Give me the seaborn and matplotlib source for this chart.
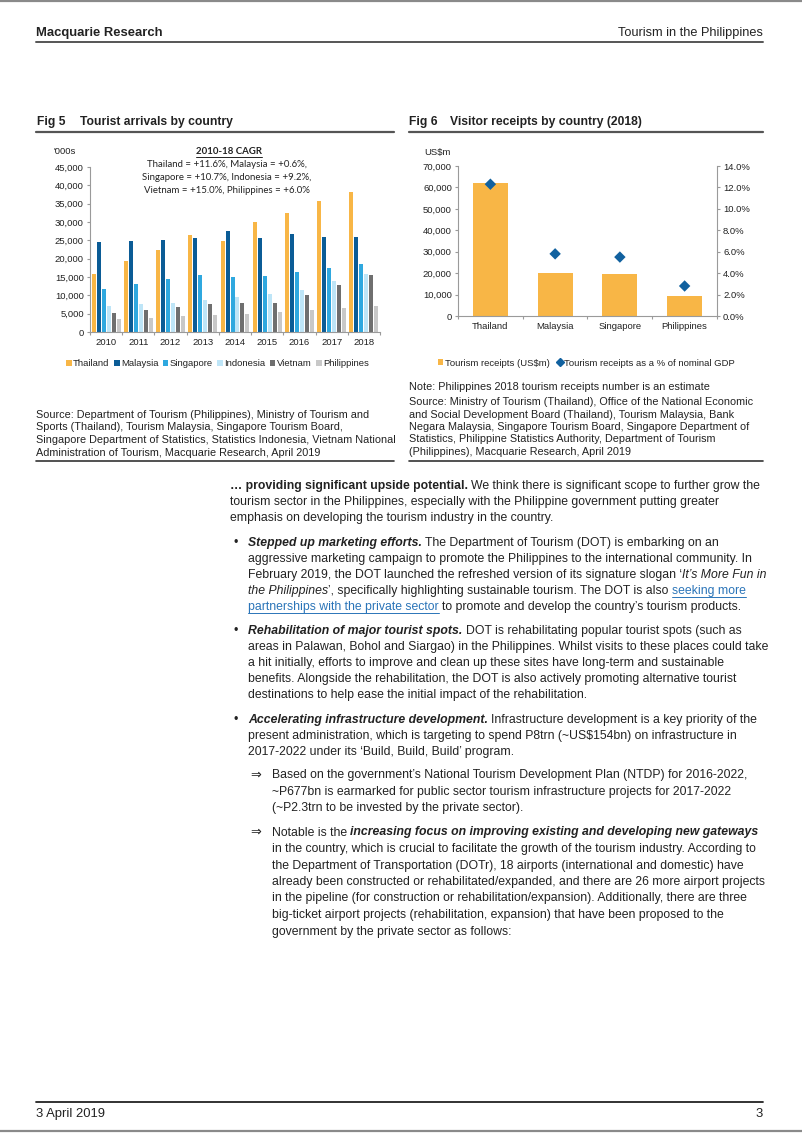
import numpy as np
import pandas as pd
import matplotlib
matplotlib.use("Agg")
import matplotlib.pyplot as plt
import seaborn as sns
from matplotlib.patches import Patch
from matplotlib.lines import Line2D
from matplotlib.ticker import FuncFormatter, MultipleLocator

# ---------------- data ----------------
years = ["2010", "2011", "2012", "2013", "2014", "2015", "2016", "2017", "2018"]
countries5 = ["Thailand", "Malaysia", "Singapore", "Indonesia", "Vietnam", "Philippines"]
thailand = [15936, 19230, 22354, 26547, 24810, 29923, 32530, 35592, 38178]
malaysia = [24577, 24714, 25033, 25716, 27437, 25721, 26757, 25948, 25832]
singapore = [11639, 13171, 14496, 15568, 15095, 15231, 16404, 17425, 18508]
indonesia = [7003, 7650, 8044, 8802, 9435, 10231, 11519, 14040, 15810]
vietnam = [5050, 6014, 6848, 7572, 7874, 7944, 10013, 12922, 15498]
philippines = [3520, 3917, 4273, 4681, 4833, 5361, 5967, 6621, 7128]

countries6 = ["Thailand", "Malaysia", "Singapore", "Philippines"]
receipts = [61900, 20300, 19700, 9500]
receipts_pct_gdp = [12.3, 5.8, 5.5, 2.8]

cagr_lines = ["Thailand = +11.6%, Malaysia = +0.6%,",
              "Singapore = +10.7%, Indonesia = +9.2%,",
              "Vietnam = +15.0%, Philippines = +6.0%"]

# ---------------- style ----------------
ORANGE = "#F8B646"
C5 = ["#F8B646", "#0B5C96", "#2FA8DF", "#BEE5F7", "#6F6F6F", "#C8C8C8"]
BLUE6 = "#11619F"
TXT = "#222222"
LINK = "#2A74B8"
AXC = "#9A9A9A"

sns.set_theme(style="white")
plt.rcParams["font.family"] = ["Liberation Sans", "DejaVu Sans"]
BODY = ["Liberation Sans", "DejaVu Sans"]
NARROW = ["Liberation Sans Narrow", "Liberation Sans", "DejaVu Sans"]
CAL = ["Lato", "DejaVu Sans"]

W, H = 802, 1133
fig = plt.figure(figsize=(W / 100, H / 100), dpi=100)
fig.patch.set_facecolor("white")
R = fig.canvas.get_renderer()


def fx(x):
    return x / W


def fy(y):
    return 1 - y / H


def measure(s, **kw):
    t = fig.text(0, 0, "|" + s + "|", **kw)
    w1 = t.get_window_extent(R).width
    t.remove()
    t = fig.text(0, 0, "||", **kw)
    w2 = t.get_window_extent(R).width
    t.remove()
    return w1 - w2


def fit(s, width, **kw):
    return 10 * width / measure(s, fontsize=10, **kw)


def hline(x0, x1, y, color="#333333", lw=1.2):
    fig.add_artist(Line2D([fx(x0), fx(x1)], [fy(y), fy(y)], color=color, lw=lw))


def draw_runs(x, y, parts, size, family=BODY, color=TXT):
    cx = x
    for s, st in parts:
        st = dict(st)
        ul = st.pop("underline", False)
        kw = dict(fontsize=size, family=family, color=color)
        kw.update(st)
        stripped = s.lstrip(" ")
        lead = len(s) - len(stripped)
        if lead:
            cx += measure(" " * lead, **kw)
        fig.text(fx(cx), fy(y), stripped, ha="left", va="center", **kw)
        w = measure(stripped, **kw)
        if ul:
            uy = y + kw["fontsize"] * 100 / 72 * 0.52
            fig.add_artist(Line2D([fx(cx), fx(cx + w)], [fy(uy), fy(uy)],
                                  color=kw["color"], lw=0.7))
        cx += w


N = {}
B = dict(fontweight="bold")
I = dict(fontstyle="italic")
BI = dict(fontweight="bold", fontstyle="italic")
L = dict(color=LINK, underline=True)

# ---------------- page header ----------------
hline(0, W, 0.8, color="#8a8a8a", lw=1.6)
hs = fit("Tourism in the Philippines", 145, family=NARROW)
fig.text(fx(36), fy(33), "Macquarie Research", fontsize=hs * 1.02, family=NARROW,
         fontweight="bold", color=TXT, ha="left", va="center")
fig.text(fx(763), fy(33), "Tourism in the Philippines", fontsize=hs, family=NARROW,
         color=TXT, ha="right", va="center")
hline(36, 763, 42, color="#555555", lw=1.4)

# figure titles
ts = fit("Tourist arrivals by country", 152, family=NARROW, fontweight="bold")
for x0, x1, lab, title in [(37, 80, "Fig 5", "Tourist arrivals by country"),
                           (409, 450, "Fig 6", "Visitor receipts by country (2018)")]:
    fig.text(fx(x0), fy(122), lab, fontsize=ts, family=NARROW, fontweight="bold",
             color=TXT, ha="left", va="center")
    fig.text(fx(x1), fy(122), title, fontsize=ts, family=NARROW, fontweight="bold",
             color=TXT, ha="left", va="center")
hline(36, 394, 131.5, color="#555555", lw=1.6)
hline(409, 763, 131.5, color="#555555", lw=1.6)

# ---------------- Fig 5 ----------------
CS = fit("45,000", 29, family=BODY)
ax1 = fig.add_axes([fx(90), fy(332), (380 - 90) / W, (332 - 167) / H])
series = dict(zip(countries5, [thailand, malaysia, singapore, indonesia, vietnam, philippines]))
df5 = pd.DataFrame([(y, c, v) for c, vals in series.items() for y, v in zip(years, vals)],
                   columns=["year", "country", "arrivals"])
sns.barplot(data=df5, x="year", y="arrivals", hue="country", hue_order=countries5,
            palette=dict(zip(countries5, C5)), width=0.93, gap=0.2, saturation=1,
            errorbar=None, legend=False, linewidth=0, ax=ax1)
ax1.set_xlim(-0.5, 8.5)
ax1.set_ylim(0, 45000)
ax1.yaxis.set_major_locator(MultipleLocator(5000))
ax1.yaxis.set_major_formatter(FuncFormatter(lambda v, p: f"{int(v):,}"))
ax1.set_xlabel("")
ax1.set_ylabel("")
ax1.set_xticks(np.arange(-0.5, 9, 1), minor=True)
for sp in ["top", "right"]:
    ax1.spines[sp].set_visible(False)
for sp in ["left", "bottom"]:
    ax1.spines[sp].set_color(AXC)
    ax1.spines[sp].set_linewidth(0.8)
ax1.tick_params(axis="y", length=2.2, width=0.8, color=AXC, labelsize=CS, labelcolor=TXT, pad=2.2, left=True)
ax1.tick_params(axis="x", which="major", length=0, labelsize=CS, labelcolor=TXT, pad=4)
ax1.tick_params(axis="x", which="minor", length=2.2, width=0.8, color=AXC, bottom=True)
ax1.set_facecolor("white")

fig.text(fx(53), fy(152), "'000s", fontsize=CS, family=BODY, color=TXT, ha="left", va="center")
cs = fit(cagr_lines[0], 159, family=CAL)
draw_runs(196, 152, [("2010-18 CAGR", dict(fontweight="bold", underline=True))], cs,
          family=CAL, color=TXT)
for i, ln in enumerate(cagr_lines):
    fig.text(fx(226.5), fy(165 + 12.8 * i), ln, fontsize=cs, family=CAL,
             color=TXT, ha="center", va="center")

h5 = [Patch(facecolor=c, edgecolor="none", label=n) for n, c in zip(countries5, C5)]
fig.legend(handles=h5, loc="center", bbox_to_anchor=(fx(217.5), fy(363.5)), ncol=6,
           frameon=False, fontsize=CS, handlelength=0.6, handleheight=0.6,
           handletextpad=0.15, columnspacing=0.45, borderpad=0, borderaxespad=0,
           labelcolor=TXT)

# ---------------- Fig 6 ----------------
ax2 = fig.add_axes([fx(458), fy(316), (717 - 458) / W, (316 - 166) / H])
sns.barplot(x=countries6, y=receipts, color=ORANGE, width=0.54, saturation=1,
            errorbar=None, linewidth=0, ax=ax2)
ax3 = ax2.twinx()
sns.scatterplot(x=np.arange(len(countries6)), y=receipts_pct_gdp, marker="D", s=34,
                color=BLUE6, edgecolor="none", ax=ax3, legend=False, zorder=3)
ax2.set_xlim(-0.5, 3.5)
ax3.set_xlim(-0.5, 3.5)
ax2.set_ylim(0, 70000)
ax3.set_ylim(0, 14)
ax2.yaxis.set_major_locator(MultipleLocator(10000))
ax2.yaxis.set_major_formatter(FuncFormatter(lambda v, p: f"{int(v):,}"))
ax3.yaxis.set_major_locator(MultipleLocator(2))
ax3.yaxis.set_major_formatter(FuncFormatter(lambda v, p: f"{v:.1f}%"))
ax2.set_xticks(np.arange(-0.5, 4, 1), minor=True)
for a in [ax2, ax3]:
    a.set_xlabel("")
    a.set_ylabel("")
    a.spines["top"].set_visible(False)
    for sp in ["left", "bottom", "right"]:
        a.spines[sp].set_color(AXC)
        a.spines[sp].set_linewidth(0.8)
ax2.spines["right"].set_visible(False)
ax3.spines["left"].set_visible(False)
ax3.spines["bottom"].set_visible(False)
ax2.tick_params(axis="y", length=2.2, width=0.8, color=AXC, labelsize=CS, labelcolor=TXT, pad=2.2, left=True)
ax3.tick_params(axis="y", length=2.2, width=0.8, color=AXC, labelsize=CS, labelcolor=TXT, pad=2.2, right=True)
ax2.tick_params(axis="x", which="major", length=0, labelsize=CS, labelcolor=TXT, pad=4)
ax2.tick_params(axis="x", which="minor", length=2.2, width=0.8, color=AXC, bottom=True)

fig.text(fx(424), fy(152), "US$m", fontsize=CS, family=BODY, color=TXT, ha="left", va="center")
h6 = [Patch(facecolor=ORANGE, edgecolor="none", label="Tourism receipts (US$m)"),
      Line2D([], [], marker="D", color=BLUE6, linestyle="none", markersize=3.6,
             label="Tourism receipts as a % of nominal GDP")]
fig.legend(handles=h6, loc="center", bbox_to_anchor=(fx(586.5), fy(363)), ncol=2,
           frameon=False, fontsize=CS, handlelength=0.6, handleheight=0.6,
           handletextpad=0.15, columnspacing=0.8, borderpad=0, borderaxespad=0,
           labelcolor=TXT)

# ---------------- notes & sources ----------------
SS = fit("Source: Department of Tourism (Philippines), Ministry of Tourism and", 332, family=NARROW)
src5 = ["Source: Department of Tourism (Philippines), Ministry of Tourism and",
        "Sports (Thailand), Tourism Malaysia, Singapore Tourism Board,",
        "Singapore Department of Statistics, Statistics Indonesia, Vietnam National",
        "Administration of Tourism, Macquarie Research, April 2019"]
src6 = ["Note: Philippines 2018 tourism receipts number is an estimate",
        "Source: Ministry of Tourism (Thailand), Office of the National Economic",
        "and Social Development Board (Thailand), Tourism Malaysia, Bank",
        "Negara Malaysia, Singapore Tourism Board, Singapore Department of",
        "Statistics, Philippine Statistics Authority, Department of Tourism",
        "(Philippines), Macquarie Research, April 2019"]
for i, s in enumerate(src5):
    fig.text(fx(36), fy(415 + 12.5 * i), s, fontsize=SS, family=NARROW, color=TXT,
             ha="left", va="center")
fig.text(fx(409), fy(386.5), src6[0], fontsize=SS, family=NARROW, color=TXT, ha="left", va="center")
for i, s in enumerate(src6[1:]):
    fig.text(fx(409), fy(402 + 12.5 * i), s, fontsize=SS, family=NARROW, color=TXT,
             ha="left", va="center")
hline(36, 394, 461, color="#333333", lw=1.2)
hline(409, 763, 461, color="#333333", lw=1.2)

# ---------------- body text ----------------
BS = fit("in the country, which is crucial to facilitate the growth of the tourism industry. According to", 485, family=BODY)
XB, XT, XA, XS = 230, 248, 250, 272
para = [
    (XB, 486, [("\u2026 providing significant upside potential.", B), (" We think there is significant scope to further grow the", N)]),
    (XB, 502, [("tourism sector in the Philippines, especially with the Philippine government putting greater", N)]),
    (XB, 518, [("emphasis on developing the tourism industry in the country.", N)]),
    (XT, 543, [("Stepped up marketing efforts.", BI), (" The Department of Tourism (DOT) is embarking on an", N)]),
    (XT, 559, [("aggressive marketing campaign to promote the Philippines to the international community. In", N)]),
    (XT, 575, [("February 2019, the DOT launched the refreshed version of its signature slogan \u2018", N), ("It\u2019s More Fun in", I)]),
    (XT, 591, [("the Philippines", I), ("\u2019, specifically highlighting sustainable tourism. The DOT is also ", N), ("seeking more", L)]),
    (XT, 607, [("partnerships with the private sector", L), (" to promote and develop the country\u2019s tourism products.", N)]),
    (XT, 631, [("Rehabilitation of major tourist spots.", BI), (" DOT is rehabilitating popular tourist spots (such as", N)]),
    (XT, 647, [("areas in Palawan, Bohol and Siargao) in the Philippines. Whilst visits to these places could take", N)]),
    (XT, 663, [("a hit initially, efforts to improve and clean up these sites have long-term and sustainable", N)]),
    (XT, 679, [("benefits. Alongside the rehabilitation, the DOT is also actively promoting alternative tourist", N)]),
    (XT, 695, [("destinations to help ease the initial impact of the rehabilitation.", N)]),
    (XT, 720, [("Accelerating infrastructure development.", BI), (" Infrastructure development is a key priority of the", N)]),
    (XT, 736, [("present administration, which is targeting to spend P8trn (~US$154bn) on infrastructure in", N)]),
    (XT, 752, [("2017-2022 under its \u2018Build, Build, Build\u2019 program.", N)]),
    (XS, 775, [("Based on the government\u2019s National Tourism Development Plan (NTDP) for 2016-2022,", N)]),
    (XS, 791.5, [("~P677bn is earmarked for public sector tourism infrastructure projects for 2017-2022", N)]),
    (XS, 808, [("(~P2.3trn to be invested by the private sector).", N)]),
    (XS, 832.5, [("Notable is the ", N), ("increasing focus on improving existing and developing new gateways", BI)]),
    (XS, 849, [("in the country, which is crucial to facilitate the growth of the tourism industry. According to", N)]),
    (XS, 865.5, [("the Department of Transportation (DOTr), 18 airports (international and domestic) have", N)]),
    (XS, 882, [("already been constructed or rehabilitated/expanded, and there are 26 more airport projects", N)]),
    (XS, 898.5, [("in the pipeline (for construction or rehabilitation/expansion). Additionally, there are three", N)]),
    (XS, 915, [("big-ticket airport projects (rehabilitation, expansion) that have been proposed to the", N)]),
    (XS, 931.5, [("government by the private sector as follows:", N)]),
]
for x, y, parts in para:
    draw_runs(x, y, parts, BS)
for y in [543, 631, 720]:
    fig.text(fx(233), fy(y), "\u2022", fontsize=BS, family=BODY, color=TXT, ha="left", va="center")
for y in [775, 832.5]:
    fig.text(fx(XA), fy(y), "\u21d2", fontsize=BS * 1.05, family=["DejaVu Sans"], color=TXT,
             ha="left", va="center")

# ---------------- footer ----------------
FS = fit("3 April 2019", 69, family=NARROW)
hline(36, 763, 1102, color="#222222", lw=1.3)
fig.text(fx(36), fy(1114), "3 April 2019", fontsize=FS, family=NARROW, color=TXT, ha="left", va="center")
fig.text(fx(763), fy(1114), "3", fontsize=FS, family=NARROW, color=TXT, ha="right", va="center")
hline(0, W, 1131, color="#8a8a8a", lw=1.6)

fig.savefig("out.png", dpi=100, facecolor="white")
